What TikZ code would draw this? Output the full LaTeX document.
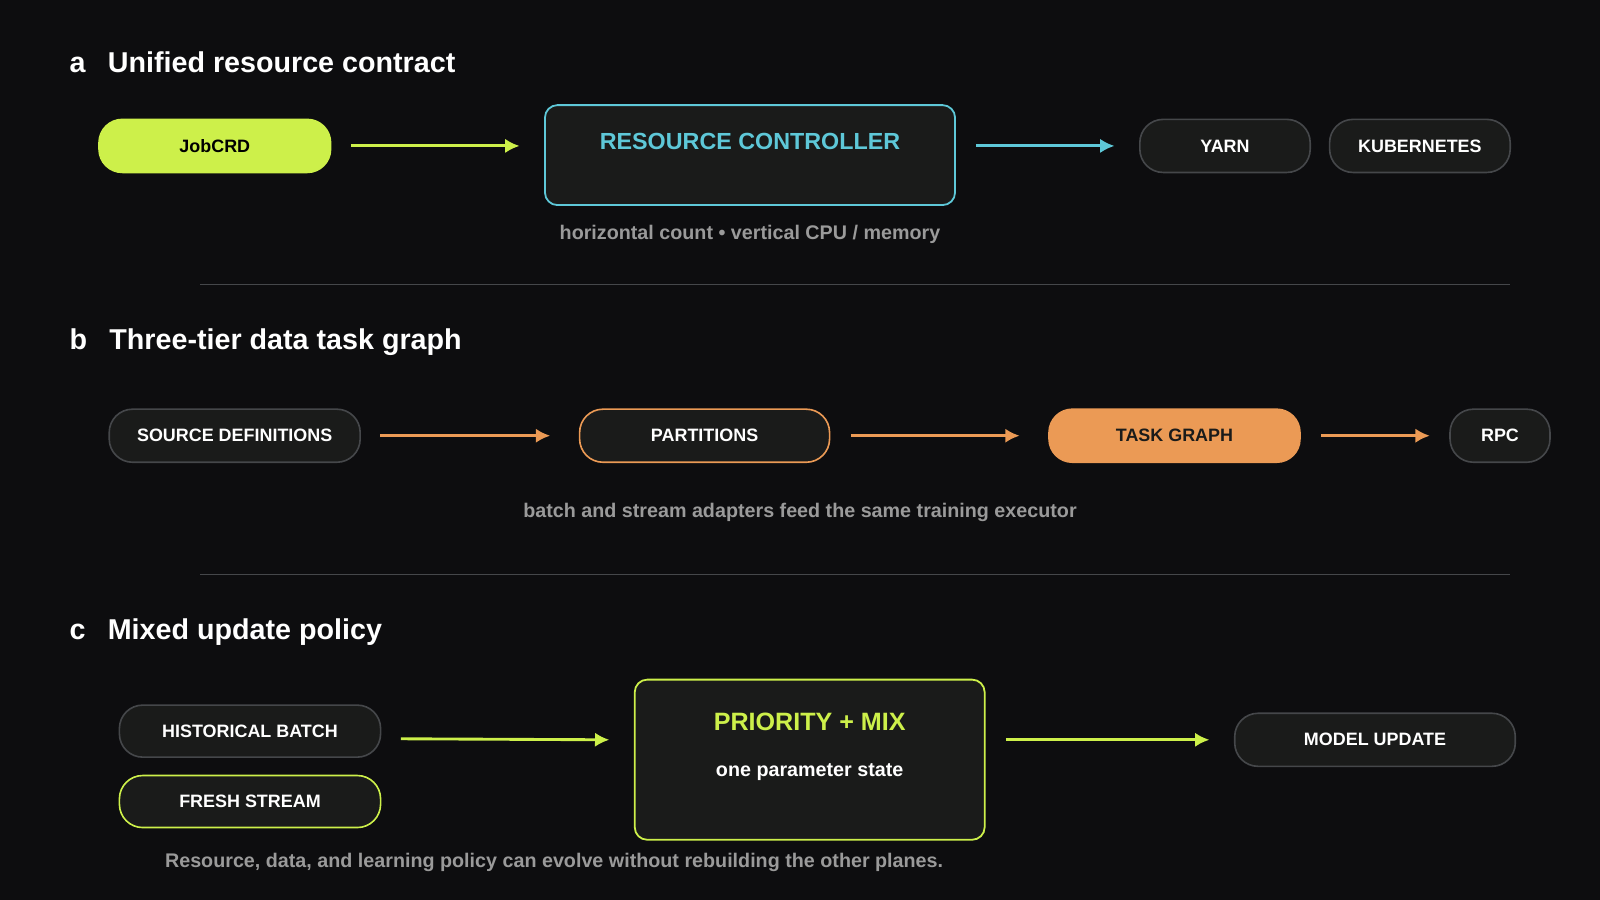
\documentclass[tikz,border=0pt]{standalone}
\usepackage{fontspec}
\setmainfont{Liberation Sans}
\usetikzlibrary{arrows.meta}
\definecolor{bg}{HTML}{0D0D0F}
\definecolor{lime}{HTML}{CDF04A}
\definecolor{cyanc}{HTML}{5EC8D8}
\definecolor{orng}{HTML}{EB9A55}
\definecolor{pillbg}{HTML}{1A1B1A}
\definecolor{edgegray}{HTML}{45474A}
\definecolor{capgray}{HTML}{9A9A9A}
\tikzset{
  pill/.style={rounded corners=13pt, draw=edgegray, line width=0.9pt, fill=pillbg,
    text=white, font=\bfseries\fontsize{10}{12}\selectfont, minimum height=1.04cm},
  panel/.style={rounded corners=7pt, line width=1pt, fill=pillbg},
  flow/.style={line width=1.6pt, -{Latex[length=8pt,width=8pt]}},
  title/.style={text=white, font=\bfseries\fontsize{16}{19}\selectfont, anchor=west},
  caption/.style={text=capgray, font=\bfseries\fontsize{11}{13}\selectfont}
}
\begin{document}
\begin{tikzpicture}[x=0.02cm, y=-0.02cm]

    % Fondo
    \fill[bg] (0,0) rectangle (1568,882);
    \useasboundingbox (0,0) rectangle (1568,882);

    % Panel a
    \node[title] (ta) at (62,61) {a\hspace{0.5em} Unified resource contract};
    \node[pill, fill=lime, draw=lime, text=black, minimum width=4.54cm] (job) at (210.5,143) {JobCRD};
    \node[panel, draw=cyanc, minimum width=8.04cm, minimum height=1.96cm] (ctrl) at (735,152) {};
    \node[text=cyanc, font=\bfseries\fontsize{13}{15}\selectfont] (ctrlt) at (735,139) {RESOURCE CONTROLLER};
    \node[pill, minimum width=3.34cm] (yarn) at (1200.5,143) {YARN};
    \node[pill, minimum width=3.54cm] (k8s) at (1391.5,143) {KUBERNETES};
    \node[caption] (capa) at (735,230) {horizontal count • vertical CPU / memory};
    \draw[flow, lime] ([xshift=0.38cm]job.east) -- ([xshift=-0.48cm]ctrl.west |- job.east);
    \draw[flow, cyanc] ([xshift=0.4cm]ctrl.east |- yarn.west) -- ([xshift=-0.48cm]yarn.west);

    \draw[edgegray, line width=0.8pt] (196,279) -- (1480,279);

    % Panel b
    \node[title] (tb) at (62,335) {b\hspace{0.5em} Three-tier data task graph};
    \node[pill, minimum width=4.92cm] (src) at (230,427) {SOURCE DEFINITIONS};
    \node[pill, draw=orng, minimum width=4.9cm] (part) at (690.5,427) {PARTITIONS};
    \node[pill, fill=orng, draw=orng, text=pillbg, minimum width=4.92cm] (tg) at (1151,427) {TASK GRAPH};
    \node[pill, minimum width=1.96cm] (rpc) at (1470,427) {RPC};
    \node[caption] (capb) at (784,502) {batch and stream adapters feed the same training executor};
    \draw[flow, orng] ([xshift=0.38cm]src.east) -- ([xshift=-0.56cm]part.west);
    \draw[flow, orng] ([xshift=0.4cm]part.east) -- ([xshift=-0.56cm]tg.west);
    \draw[flow, orng] ([xshift=0.4cm]tg.east) -- ([xshift=-0.38cm]rpc.west);

    \draw[edgegray, line width=0.8pt] (196,563) -- (1480,563);

    % Panel c
    \node[title] (tc) at (62,619) {c\hspace{0.5em} Mixed update policy};
    \node[pill, minimum width=5.12cm, minimum height=1.02cm] (hist) at (245,716.5) {HISTORICAL BATCH};
    \node[pill, draw=lime, minimum width=5.12cm, minimum height=1.02cm] (fresh) at (245,785.5) {FRESH STREAM};
    \node[panel, draw=lime, minimum width=6.86cm, minimum height=3.14cm] (mix) at (793.5,744.5) {};
    \node[text=lime, font=\bfseries\fontsize{14}{16}\selectfont] (mixt) at (793.5,707) {PRIORITY + MIX};
    \node[text=white, font=\bfseries\fontsize{11}{13}\selectfont] (mixs) at (793.5,757) {one parameter state};
    \node[pill, minimum width=5.5cm] (model) at (1347.5,725) {MODEL UPDATE};
    \node[caption] (capc) at (543,845) {Resource, data, and learning policy can evolve without rebuilding the other planes.};
    \draw[flow, lime] ([xshift=0.38cm, yshift=-0.15cm]hist.east) -- ([xshift=-0.48cm]mix.west |- model.west);
    \draw[flow, lime] ([xshift=0.4cm]mix.east |- model.west) -- ([xshift=-0.48cm]model.west);

\end{tikzpicture}
\end{document}
